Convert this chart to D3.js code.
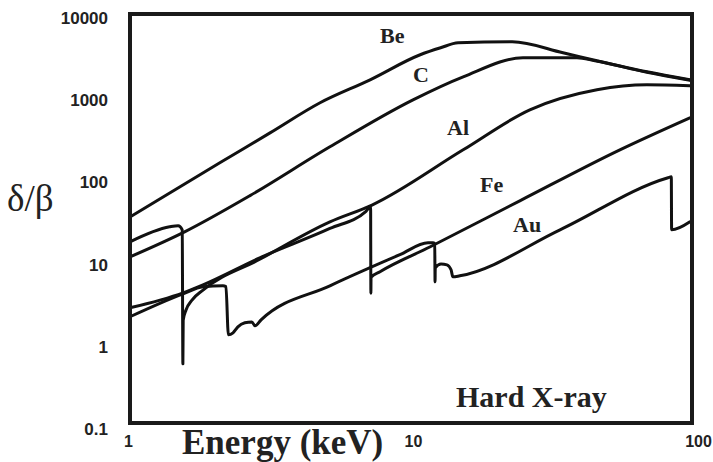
<!DOCTYPE html>
<html>
<head>
<meta charset="utf-8">
<script src="https://cdn.jsdelivr.net/npm/d3@7"></script>
<style>
  body { margin: 0; background: #fff; }
</style>
</head>
<body>
<div class="chart"></div>
<script>
const width = 713;
const height = 462;

// photon energy (keV) / delta-over-beta
const beE = [1.016, 2.10, 3.15, 4.72, 7.07, 10.6, 12.5, 14.4, 22.3, 33.6, 44.2, 66.2, 93.7];
const beV = [38, 173, 400, 930, 1770, 3570, 4340, 4990, 5130, 3770, 3015, 2215, 1770];

const cE = [1.016, 1.58, 2.68, 5.11, 10.0, 15.0, 24.3, 37.6, 43.5, 66.2, 93.7];
const cV = [12.4, 25, 69, 271, 1010, 1925, 3280, 3280, 3015, 2190, 1750];

const alE = [1.016, 1.40, 1.50, 1.55, 1.558, 1.562, 1.598, 1.677, 1.833, 2.90, 5.11, 7.18, 15.0, 25.7, 44.2, 66.2, 93.7];
const alV = [18.9, 28.8, 29.7, 26.5, 0.62, 2.1, 2.8, 3.7, 4.9, 11.6, 33.1, 53, 249, 764, 1340, 1540, 1500];

const feE = [1.016, 1.56, 1.833, 2.90, 5.11, 6.84, 7.10, 7.115, 7.125, 7.66, 11.5, 23.7, 53.2, 93.7];
const feV = [2.98, 4.54, 5.68, 12.1, 27.5, 44.5, 50.5, 4.5, 7.0, 8.2, 16.5, 59.7, 249, 611];

const auE = [1.016, 1.56, 1.833, 2.154, 2.206, 2.25, 2.336, 2.43, 2.57, 2.72, 2.79, 2.93, 5.11, 9.0, 11.29, 11.75, 11.92, 11.95, 11.97, 12.54, 13.16, 13.6, 13.8, 14.6, 32.8, 78.5, 80.6, 80.8, 93.7];
const auV = [2.32, 4.41, 5.37, 5.52, 5.4, 1.40, 1.48, 1.75, 1.96, 2.01, 1.80, 2.13, 5.52, 13.2, 18.4, 18.4, 18.0, 6.18, 9.14, 10.2, 9.94, 8.65, 7.1, 7.31, 26.5, 114, 117, 26.5, 33.2];

const yTicks = [0.1, 1, 10, 100, 1000, 10000];
const yTickLabels = ['0.1', '1', '10', '100', '1000', '10000'];
const xTicks = [1, 10, 100];
const xTickLabels = ['1', '10', '100'];

const names = ['Be', 'C', 'Al', 'Fe', 'Au'];
const series = [
  {name: 'Be', E: beE, v: beV},
  {name: 'C', E: cE, v: cV},
  {name: 'Al', E: alE, v: alV},
  {name: 'Fe', E: feE, v: feV},
  {name: 'Au', E: auE, v: auV},
];

// where the element names sit (pixels)
const labelPos = {Be: [380, 43], C: [413, 82], Al: [447, 135], Fe: [480, 192], Au: [513, 232]};

const frame = {left: 130, top: 14, right: 692, bottom: 423};

const x = d3.scaleLog().domain([1, 100]).range([128, 698]);
const y = d3.scaleLog().domain([0.1, 10000]).range([429, 18]);

const svg = d3.select('.chart').append('svg')
  .attr('width', width)
  .attr('height', height)
  .style('font-family', 'Liberation Sans, Arial, sans-serif');

svg.append('rect')
  .attr('width', width).attr('height', height).attr('fill', '#fff');

const line = d3.line()
  .curve(d3.curveMonotoneX)
  .x(d => x(d[0]))
  .y(d => y(d[1]));

svg.append('g').selectAll('path')
  .data(series)
  .enter().append('path')
  .attr('d', d => line(d.E.map((e, i) => [e, d.v[i]])))
  .attr('fill', 'none')
  .attr('stroke', '#111')
  .attr('stroke-width', 3)
  .attr('stroke-linejoin', 'round')
  .attr('stroke-linecap', 'round');

// box around plot
svg.append('rect')
  .attr('x', frame.left).attr('y', frame.top)
  .attr('width', frame.right - frame.left)
  .attr('height', frame.bottom - frame.top)
  .attr('fill', 'none')
  .attr('stroke', '#1a1a1a')
  .attr('stroke-width', 4);

// y axis labels
const yAxis = svg.append('g')
  .attr('transform', 'translate(111,0)')
  .call(d3.axisLeft(y).tickValues(yTicks).tickSize(0).tickPadding(3)
    .tickFormat((d, i) => yTickLabels[i]));
yAxis.select('.domain').remove();
yAxis.selectAll('text')
  .style('font-family', 'Liberation Sans, Arial, sans-serif')
  .style('font-size', '17px')
  .style('font-weight', 'bold')
  .attr('fill', '#222');

// x axis labels
const xAxis = svg.append('g')
  .attr('transform', 'translate(0,423)')
  .call(d3.axisBottom(x).tickValues(xTicks).tickSize(0).tickPadding(13)
    .tickFormat((d, i) => xTickLabels[i]));
xAxis.select('.domain').remove();
xAxis.selectAll('text')
  .style('font-family', 'Liberation Sans, Arial, sans-serif')
  .style('font-size', '16px')
  .style('font-weight', 'bold')
  .attr('fill', '#222');

// curve names
svg.append('g').selectAll('text')
  .data(names)
  .enter().append('text')
  .attr('x', d => labelPos[d][0])
  .attr('y', d => labelPos[d][1])
  .text(d => d)
  .style('font-family', 'Liberation Serif, Times New Roman, serif')
  .style('font-size', '22px')
  .style('font-weight', 'bold')
  .attr('fill', '#222');

svg.append('text')
  .attr('x', 7).attr('y', 211)
  .text('δ/β')
  .style('font-family', 'Liberation Serif, Times New Roman, serif')
  .style('font-size', '37px')
  .attr('fill', '#222');

svg.append('text')
  .attr('x', 182).attr('y', 454)
  .text('Energy (keV)')
  .style('font-family', 'Liberation Serif, Times New Roman, serif')
  .style('font-size', '35px')
  .style('font-weight', 'bold')
  .attr('fill', '#222');

svg.append('text')
  .attr('x', 456).attr('y', 407)
  .text('Hard X-ray')
  .style('font-family', 'Liberation Serif, Times New Roman, serif')
  .style('font-size', '30px')
  .style('font-weight', 'bold')
  .attr('fill', '#222');
</script>
</body>
</html>
